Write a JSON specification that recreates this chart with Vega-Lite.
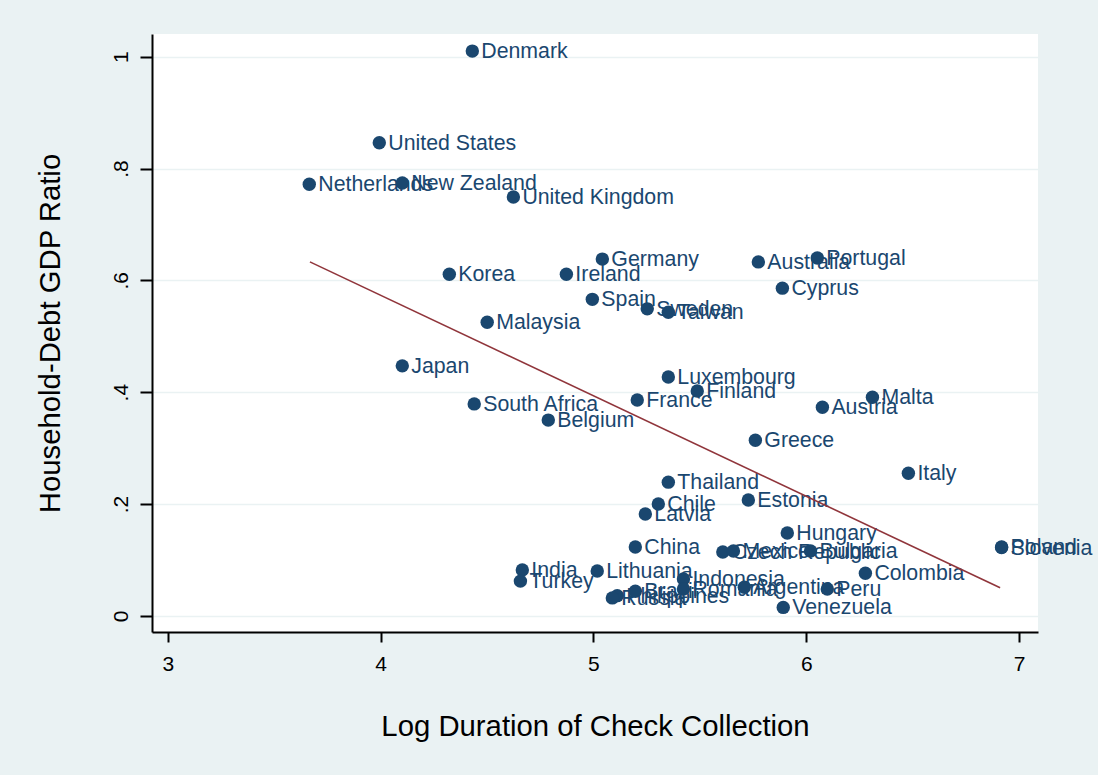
{
  "$schema": "https://vega.github.io/schema/vega-lite/v6.json",
  "width": 886,
  "height": 598,
  "autosize": {"type": "none"},
  "padding": {"left": 152, "top": 34, "right": 60, "bottom": 143},
  "background": "#EAF2F3",
  "config": {
    "view": {"fill": "white", "stroke": null},
    "font": "Liberation Sans"
  },
  "datasets": {
    "countries": [
      {"country": "Denmark", "logdur": 4.431, "ratio": 1.010},
      {"country": "United States", "logdur": 3.994, "ratio": 0.846},
      {"country": "Netherlands", "logdur": 3.665, "ratio": 0.772},
      {"country": "New Zealand", "logdur": 4.102, "ratio": 0.774},
      {"country": "United Kingdom", "logdur": 4.624, "ratio": 0.749},
      {"country": "Germany", "logdur": 5.042, "ratio": 0.638},
      {"country": "Australia", "logdur": 5.775, "ratio": 0.633},
      {"country": "Portugal", "logdur": 6.052, "ratio": 0.640},
      {"country": "Korea", "logdur": 4.323, "ratio": 0.611},
      {"country": "Ireland", "logdur": 4.873, "ratio": 0.611},
      {"country": "Cyprus", "logdur": 5.888, "ratio": 0.586},
      {"country": "Spain", "logdur": 4.995, "ratio": 0.566},
      {"country": "Sweden", "logdur": 5.253, "ratio": 0.549},
      {"country": "Taiwan", "logdur": 5.352, "ratio": 0.543},
      {"country": "Malaysia", "logdur": 4.501, "ratio": 0.525},
      {"country": "Japan", "logdur": 4.102, "ratio": 0.447},
      {"country": "Luxembourg", "logdur": 5.352, "ratio": 0.427},
      {"country": "Finland", "logdur": 5.488, "ratio": 0.402},
      {"country": "France", "logdur": 5.206, "ratio": 0.386},
      {"country": "South Africa", "logdur": 4.440, "ratio": 0.379},
      {"country": "Malta", "logdur": 6.311, "ratio": 0.391},
      {"country": "Austria", "logdur": 6.076, "ratio": 0.373},
      {"country": "Belgium", "logdur": 4.788, "ratio": 0.350},
      {"country": "Greece", "logdur": 5.761, "ratio": 0.314},
      {"country": "Italy", "logdur": 6.480, "ratio": 0.255},
      {"country": "Thailand", "logdur": 5.352, "ratio": 0.239},
      {"country": "Estonia", "logdur": 5.728, "ratio": 0.207},
      {"country": "Chile", "logdur": 5.305, "ratio": 0.200},
      {"country": "Latvia", "logdur": 5.244, "ratio": 0.182},
      {"country": "Hungary", "logdur": 5.911, "ratio": 0.148},
      {"country": "China", "logdur": 5.197, "ratio": 0.123},
      {"country": "Czech Republic", "logdur": 5.608, "ratio": 0.114},
      {"country": "Mexico", "logdur": 5.658, "ratio": 0.116},
      {"country": "Bulgaria", "logdur": 6.020, "ratio": 0.116},
      {"country": "Poland", "logdur": 6.918, "ratio": 0.123},
      {"country": "Slovenia", "logdur": 6.918, "ratio": 0.122},
      {"country": "Colombia", "logdur": 6.278, "ratio": 0.076},
      {"country": "India", "logdur": 4.666, "ratio": 0.082},
      {"country": "Turkey", "logdur": 4.657, "ratio": 0.062},
      {"country": "Lithuania", "logdur": 5.018, "ratio": 0.080},
      {"country": "Indonesia", "logdur": 5.423, "ratio": 0.066},
      {"country": "Romania", "logdur": 5.423, "ratio": 0.048},
      {"country": "Brazil", "logdur": 5.197, "ratio": 0.044},
      {"country": "Philippines", "logdur": 5.112, "ratio": 0.036},
      {"country": "Russia", "logdur": 5.089, "ratio": 0.032},
      {"country": "Argentina", "logdur": 5.709, "ratio": 0.051},
      {"country": "Peru", "logdur": 6.099, "ratio": 0.048},
      {"country": "Venezuela", "logdur": 5.892, "ratio": 0.015}
    ],
    "fit": [
      {"logdur": 3.668, "ratio": 0.633},
      {"logdur": 6.911, "ratio": 0.050}
    ]
  },
  "encoding": {
    "x": {
      "field": "logdur",
      "type": "quantitative",
      "scale": {"domain": [2.926, 7.089], "nice": false, "zero": false},
      "axis": {
        "values": [3, 4, 5, 6, 7],
        "title": "Log Duration of Check Collection",
        "grid": false,
        "domainColor": "black",
        "domainWidth": 2,
        "tickColor": "black",
        "tickWidth": 2,
        "tickSize": 10,
        "labelFontSize": 21,
        "labelColor": "black",
        "labelPadding": 11,
        "titleFontSize": 29.3,
        "titleFontWeight": "normal",
        "titleColor": "black",
        "titlePadding": 38
      }
    },
    "y": {
      "field": "ratio",
      "type": "quantitative",
      "scale": {"domain": [-0.029, 1.0406], "nice": false, "zero": false},
      "axis": {
        "values": [0, 0.2, 0.4, 0.6, 0.8, 1],
        "labelExpr": "datum.value == 0 ? '0' : datum.value == 1 ? '1' : replace(format(datum.value, '.1f'), '0.', '.')",
        "title": "Household-Debt GDP Ratio",
        "grid": true,
        "gridColor": "#EAF2F3",
        "gridWidth": 1.5,
        "domainColor": "black",
        "domainWidth": 2,
        "tickColor": "black",
        "tickWidth": 2,
        "tickSize": 12,
        "labelFontSize": 21,
        "labelColor": "black",
        "labelAngle": 270,
        "labelAlign": "center",
        "labelBaseline": "alphabetic",
        "labelPadding": 13,
        "titleFontSize": 29.3,
        "titleFontWeight": "normal",
        "titleColor": "black",
        "titlePadding": 45
      }
    }
  },
  "layer": [
    {
      "data": {"name": "countries"},
      "mark": {"type": "point", "filled": true, "size": 180, "opacity": 1, "color": "#1a476f"}
    },
    {
      "data": {"name": "countries"},
      "mark": {"type": "text", "align": "left", "baseline": "middle", "dx": 9, "dy": 1, "fontSize": 21.3, "color": "#1a476f"},
      "encoding": {"text": {"field": "country"}}
    },
    {
      "data": {"name": "fit"},
      "mark": {"type": "line", "color": "#90353b", "strokeWidth": 1.6},
      "encoding": {}
    }
  ]
}
